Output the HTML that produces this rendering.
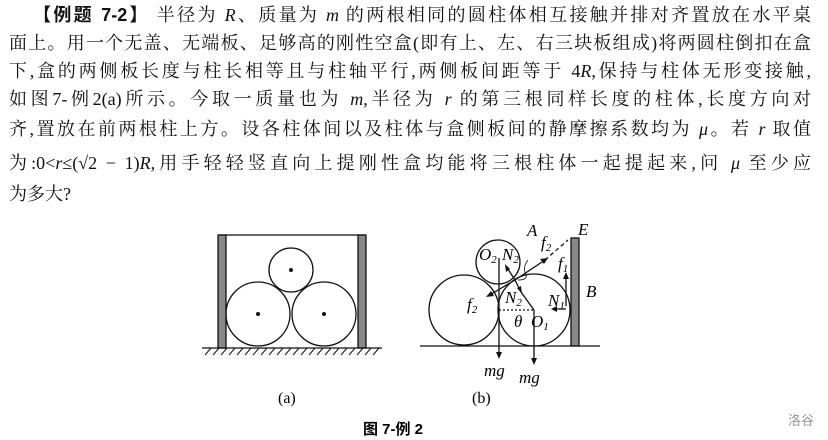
<!DOCTYPE html>
<html><head><meta charset="utf-8"><style>
body{margin:0;width:828px;height:440px;background:#fff;overflow:hidden;position:relative;font-family:"Liberation Serif","Noto Serif CJK SC",serif;color:#111}
.l{position:absolute;left:9px;width:802px;font-size:18px;line-height:20px;white-space:nowrap;text-align:justify;text-align-last:justify}
i{font-family:"Liberation Serif",serif}
svg{position:absolute;left:0;top:0}
</style></head><body>
<div class="l" style="top:5px;left:33px;width:778px"><b style="font-family:'Liberation Sans','Noto Sans CJK SC',sans-serif">【例题 7-2】</b> 半径为 <i>R</i>、质量为 <i>m</i> 的两根相同的圆柱体相互接触并排对齐置放在水平桌</div>
<div class="l" style="top:33px">面上。用一个无盖、无端板、足够高的刚性空盒(即有上、左、右三块板组成)将两圆柱倒扣在盒</div>
<div class="l" style="top:61px">下,盒的两侧板长度与柱长相等且与柱轴平行,两侧板间距等于 4<i>R</i>,保持与柱体无形变接触,</div>
<div class="l" style="top:89px">如图7-例2(a)所示。今取一质量也为 <i>m</i>,半径为 <i>r</i> 的第三根同样长度的柱体,长度方向对</div>
<div class="l" style="top:119px">齐,置放在前两根柱上方。设各柱体间以及柱体与盒侧板间的静摩擦系数均为 <i>μ</i>。若 <i>r</i> 取值</div>
<div class="l" style="top:153px">为:0&lt;<i>r</i>≤(√2 − 1)<i>R</i>,用手轻轻竖直向上提刚性盒均能将三根柱体一起提起来,问 <i>μ</i> 至少应</div>
<div class="l" style="top:184px;text-align-last:left">为多大?</div>
<svg width="828" height="440" font-family="Liberation Serif,serif" font-style="italic">
<g stroke="#111" fill="none" stroke-width="1.3">
<line x1="218" y1="235" x2="366" y2="235"/>
<rect x="218" y="235" width="8" height="113" fill="#888"/>
<rect x="358" y="235" width="8" height="113" fill="#888"/>
<line x1="202" y1="348" x2="382" y2="348"/>
<path d="M205 355l6-7M213 355l6-7M221 355l6-7M229 355l6-7M237 355l6-7M245 355l6-7M253 355l6-7M261 355l6-7M269 355l6-7M277 355l6-7M285 355l6-7M293 355l6-7M301 355l6-7M309 355l6-7M317 355l6-7M325 355l6-7M333 355l6-7M341 355l6-7M349 355l6-7M357 355l6-7M365 355l6-7M373 355l6-7" stroke-width="1"/>
<circle cx="258" cy="314" r="32"/><circle cx="324" cy="314" r="32"/><circle cx="291" cy="270" r="22"/>
</g>
<g fill="#111"><circle cx="258" cy="314" r="2"/><circle cx="324" cy="314" r="2"/><circle cx="291" cy="270" r="2"/></g>
<g stroke="#111" fill="none" stroke-width="1.3">
<line x1="420" y1="346" x2="600" y2="346"/>
<rect x="571" y="238" width="8" height="108" fill="#888"/>
<circle cx="464" cy="310" r="35"/><circle cx="534" cy="310" r="36"/><circle cx="498" cy="262" r="22"/>
<line x1="499" y1="310" x2="534" y2="310" stroke-dasharray="2,2"/>
<line x1="515" y1="280" x2="545" y2="260"/><line x1="545" y1="260" x2="568" y2="240" stroke-dasharray="4,3"/>
<line x1="515" y1="280" x2="488" y2="296"/>
<line x1="515" y1="280" x2="506" y2="266"/><line x1="515" y1="280" x2="521" y2="292"/>
<line x1="521" y1="292" x2="534" y2="310"/>
<line x1="499" y1="258" x2="499" y2="355"/><line x1="534" y1="310" x2="534" y2="362"/>
<line x1="566" y1="306" x2="566" y2="276"/><line x1="566" y1="309" x2="553" y2="309"/>
<path d="M528 260 q-6 8 -2 14 q2 6 -8 6" stroke-width="0.8"/>
</g>
<g fill="#111">
<path d="M548 258l-8 1 4 5z"/><path d="M486 297l8-1-3-5z"/><path d="M505 264l1 8 4-3z"/><path d="M522 294l-1-8-4 2z"/>
<path d="M496 352h6l-3 7z"/><path d="M531 358h6l-3 7z"/><path d="M563 279h6l-3-7z"/><path d="M551 309l6-3v6z"/>
</g>
<g font-size="17">
<text x="479" y="260">O<tspan font-size="11" dy="3">2</tspan></text>
<text x="502" y="260">N<tspan font-size="11" dy="3">2</tspan></text>
<text x="527" y="236">A</text><text x="541" y="248">f<tspan font-size="11" dy="3">2</tspan></text>
<text x="578" y="235">E</text><text x="558" y="269">f<tspan font-size="11" dy="3">1</tspan></text>
<text x="586" y="297">B</text><text x="548" y="306">N<tspan font-size="11" dy="3">1</tspan></text>
<text x="505" y="303">N<tspan font-size="11" dy="3">2</tspan></text>
<text x="467" y="310">f<tspan font-size="11" dy="3">2</tspan></text>
<text x="514" y="327">θ</text><text x="531" y="327">O<tspan font-size="11" dy="3">1</tspan></text>
<text x="484" y="376">mg</text><text x="519" y="383">mg</text>
</g>
<g font-style="normal" font-size="16"><text x="278" y="403">(a)</text><text x="472" y="403">(b)</text></g>
<text x="363" y="434" font-style="normal" font-weight="bold" font-size="15" font-family="Liberation Sans,Noto Sans CJK SC,sans-serif">图 7-例 2</text>
<text x="788" y="425" font-style="normal" font-size="13" fill="#999" font-family="Noto Sans CJK SC,sans-serif">洛谷</text>
</svg>
</body></html>
